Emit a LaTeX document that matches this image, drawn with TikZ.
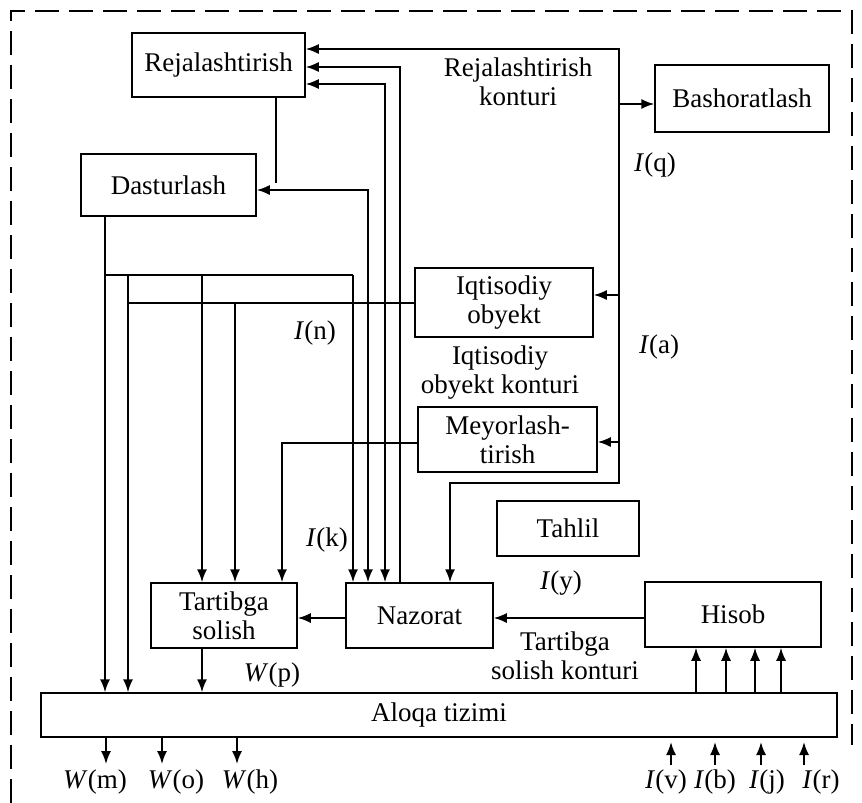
\documentclass[tikz,border=0pt]{standalone}
\usepackage{fontspec}
\setmainfont{Liberation Serif}
\usetikzlibrary{arrows.meta}
\newcommand{\fs}{\fontsize{27}{29}\selectfont}
\tikzset{
  box/.style={draw, line width=1.5pt, inner sep=0pt, align=center, font=\fs},
  ln/.style={line width=1.7pt},
  arr/.style={ln, -{Latex[length=13pt,width=10pt]}},
  dbl/.style={ln, {Latex[length=13pt,width=10pt]}-{Latex[length=13pt,width=10pt]}},
  lbl/.style={font=\fs, align=center, inner sep=0pt},
  frame/.style={line width=1.7pt, dash pattern=on 24pt off 10pt}
}
\begin{document}
\begin{tikzpicture}[x=1pt,y=-1pt]
\useasboundingbox (0,0) rectangle (862,803);
\draw[frame] (11,803) -- (11,11) -- (852,11) -- (852,745);

% boxes
\node[box, minimum width=173pt, minimum height=64pt] (rej) at (218.5,65) {Rejalashtirish};
\node[box, minimum width=175pt, minimum height=62pt] (das) at (168.5,185) {Dasturlash};
\node[box, minimum width=174pt, minimum height=67pt] (bash) at (742,98.5) {Bashoratlash};
\node[box, minimum width=178pt, minimum height=69pt] (iqt) at (504,302.5) {Iqtisodiy\\obyekt};
\node[box, minimum width=179pt, minimum height=65pt] (mey) at (507.5,439.5) {Meyorlash-\\tirish};
\node[box, minimum width=142pt, minimum height=55pt] (tah) at (568,528.5) {Tahlil};
\node[box, minimum width=176pt, minimum height=65pt] (his) at (733,614.5) {Hisob};
\node[box, minimum width=147pt, minimum height=65pt] (naz) at (419.5,615.5) {Nazorat};
\node[box, minimum width=146pt, minimum height=65pt] (tar) at (224,615.5) {Tartibga\\solish};
\node[box, minimum width=796pt, minimum height=44pt] (alo) at (439,715) {Aloqa tizimi};

% labels
\node[lbl] (lrk) at (518,82) {Rejalashtirish\\konturi};
\node[lbl] (liok) at (500,373) {Iqtisodiy\\obyekt konturi};
\node[lbl] (ltsk) at (565,656) {Tartibga\\solish konturi};
\node[lbl] (lq) at (655,165) {\textit{I}(q)};
\node[lbl] (la) at (659,347) {\textit{I}(a)};
\node[lbl] (ln) at (315,333) {\textit{I}(n)};
\node[lbl] (lk) at (327,540) {\textit{I}(k)};
\node[lbl] (ly) at (561,583) {\textit{I}(y)};
\node[lbl] (lp) at (272,675) {\textit{W}(p)};

% right trunk
\coordinate (T1) at (619,49);
\coordinate (T2) at (619,483);
\coordinate (T3) at (450,483);
\draw[dbl] (rej.east |- T1) -- (T1) -- (T2) -- (T3) -- (T3 |- naz.north);
\coordinate (B1) at (619,104);
\coordinate (B2) at (619,295);
\coordinate (B3) at (619,442);
\draw[arr] (B1) -- (B1 -| bash.west);
\draw[arr] (B2) -- (B2 -| iqt.east);
\draw[arr] (B3) -- (B3 -| mey.east);

% Nazorat to Rejalashtirish / Dasturlash
\coordinate (R2) at (400,67);
\draw[arr] (R2 |- naz.north) -- (R2) -- (R2 -| rej.east);
\coordinate (R3) at (385,84);
\draw[dbl] (R3 -| rej.east) -- (R3) -- (R3 |- naz.north);
\coordinate (D1) at (368,190);
\draw[dbl] (D1 -| das.east) -- (D1) -- (D1 |- naz.north);
\coordinate (RB) at (276,183);
\draw[ln] (rej.south -| RB) -- (RB);

% left distribution
\coordinate (V1) at (105,275);
\coordinate (H2) at (353,275);
\draw[arr] (das.south -| V1) -- (V1 |- alo.north);
\draw[ln] (V1) -- (H2);
\draw[arr] (H2) -- (H2 |- naz.north);
\coordinate (V2) at (128,275);
\draw[arr] (V2) -- (V2 |- alo.north);
\coordinate (V3) at (202,275);
\draw[arr] (V3) -- (V3 |- tar.north);
\coordinate (I1) at (128,303);
\draw[ln] (iqt.west |- I1) -- (I1);
\coordinate (V4) at (235,303);
\draw[arr] (V4) -- (V4 |- tar.north);
\coordinate (M1) at (282,443);
\draw[arr] (mey.west |- M1) -- (M1) -- (M1 |- tar.north);
\draw[arr] (tar.south -| V3) -- (V3 |- alo.north);

% horizontal links
\coordinate (N1) at (0,618);
\draw[arr] (naz.west |- N1) -- (tar.east |- N1);
\draw[arr] (his.west |- N1) -- (naz.east |- N1);

% inputs to Hisob
\foreach \x in {696,726,755,781}{
  \coordinate (hx) at (\x,0);
  \draw[arr] (alo.north -| hx) -- (his.south -| hx);
}

% outputs
\foreach \x/\t/\lx in {106/m/95,162/o/176,237/h/250}{
  \coordinate (o\t) at (\x,764);
  \draw[arr] (alo.south -| o\t) -- (o\t);
  \node[lbl] (w\t) at (\lx,782) {\textit{W}(\t)};
}
% external inputs
\foreach \x/\t/\lx in {671/v/666,715/b/715,761/j/767,804/r/821}{
  \coordinate (i\t) at (\x,765);
  \coordinate (j\t) at (\x,742);
  \draw[arr] (i\t) -- (j\t);
  \node[lbl] (li\t) at (\lx,782) {\textit{I}(\t)};
}
\end{tikzpicture}
\end{document}
